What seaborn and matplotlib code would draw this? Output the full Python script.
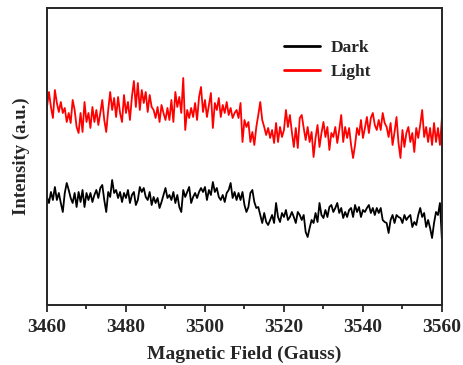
import numpy as np
import pandas as pd
import matplotlib
matplotlib.use("Agg")
import matplotlib.pyplot as plt
from matplotlib.ticker import MultipleLocator
import seaborn as sns

# =========================================================
# DADOS (passo de 0.5 G)
# =========================================================

FIELD = np.arange(3460, 3560.01, 0.5)

DARK = [
    103, 97, 108, 100, 113, 100, 107, 97, 88, 107,
    117, 110, 102, 97, 107, 93, 108, 98, 110, 93,
    107, 100, 107, 98, 105, 110, 102, 112, 115, 100,
    88, 108, 103, 120, 107, 110, 102, 108, 98, 107,
    102, 110, 97, 105, 108, 95, 100, 113, 108, 112,
    103, 100, 108,
    95, 103, 97, 102, 92, 98, 105, 112, 102, 105,
    100, 108, 97, 105, 93, 88, 110, 103, 108, 113,
    97, 103, 107, 102, 108, 112, 108, 113, 100, 110,
    105, 118, 108, 112, 103, 100, 105, 98, 107, 110,
    117, 102, 108, 100, 107, 100, 108, 95, 88, 93,
    107, 110, 98, 92, 93, 85, 77, 87, 78, 75,
    80, 85, 77, 97, 83, 78, 87, 83, 90, 80,
    83, 88, 83, 77, 88, 85, 80, 85, 68, 63,
    72, 80, 77, 87, 78, 97, 85, 82, 90, 83,
    93, 95, 88, 92, 97, 87, 92, 82, 88, 83,
    90, 92, 83, 95, 88, 93, 83, 90, 88, 92,
    95, 87, 92, 85, 92, 87, 92, 80, 78, 77,
    67, 80, 85, 77, 85, 83, 82, 77, 85, 80,
    83, 85, 73, 78, 75, 85, 92, 83, 87, 73,
    80, 72, 62, 77, 88, 85, 97, 60,
]

LIGHT = [
    193, 208, 193, 182, 210, 197, 188, 198, 187, 192,
    178, 187, 177, 200, 190, 173, 167, 187, 168, 198,
    178, 187, 172, 193, 178, 190, 175, 187, 200, 180,
    168, 190, 208, 190, 202, 183, 203, 187, 178, 205,
    187, 198, 180, 203, 219, 193, 217, 190, 210, 197,
    208, 188, 205,
    193, 190, 182, 193, 178, 195, 187, 180, 192, 180,
    200, 178, 208, 193, 203, 187, 222, 170, 190, 182,
    192, 183, 197, 180, 203, 213, 188, 200, 183, 195,
    207, 172, 197, 190, 202, 183, 195, 187, 198, 185,
    192, 182, 187, 190, 182, 197, 158, 180, 173, 178,
    158, 168, 155, 173, 185, 198, 180, 173, 165, 172,
    162, 170, 157, 177, 158, 173, 163, 170, 190, 173,
    185, 168, 153, 172, 152, 182, 185, 172, 160, 173,
    158, 168, 143, 162, 175, 153, 167, 178, 163, 173,
    150, 167, 163, 173, 157, 170, 185, 158, 173, 162,
    172, 155, 142, 155, 172, 165, 180, 162, 172, 183,
    167, 182, 187, 175, 170, 180, 170, 187, 177, 173,
    163, 177, 155, 168, 183, 157, 142, 170, 153, 167,
    173, 158, 167, 148, 172, 162, 175, 190, 163, 173,
    158, 172, 155, 177, 158, 172, 155, 182,
]

SERIES = ["Dark", "Light"]
COLORS = {"Dark": "black", "Light": "red"}

# =========================================================
# ESTILO
# =========================================================

sns.set_style("ticks")
plt.rcParams['font.family'] = ['Liberation Serif', 'DejaVu Serif']
plt.rcParams['font.weight'] = 'bold'

df = pd.concat([
    pd.DataFrame({"field": FIELD, "intensity": DARK, "sample": "Dark"}),
    pd.DataFrame({"field": FIELD, "intensity": LIGHT, "sample": "Light"}),
])

fig = plt.figure(figsize=(4.63, 3.65), dpi=100)
ax = fig.add_axes([0.1015, 0.1644, 0.853, 0.8137])

sns.lineplot(data=df, x="field", y="intensity", hue="sample",
             hue_order=SERIES, palette=COLORS, linewidth=1.3, ax=ax)

ax.set_xlim(3460, 3560)
ax.set_ylim(-5, 292)
ax.xaxis.set_major_locator(MultipleLocator(20))
ax.xaxis.set_minor_locator(MultipleLocator(10))
ax.tick_params(axis='x', which='major', direction='out', length=5, width=1.3,
               labelsize=14, pad=5)
ax.tick_params(axis='x', which='minor', direction='out', length=3, width=1.3)
ax.set_yticks([])
for lbl in ax.get_xticklabels():
    lbl.set_fontweight('bold')
for s in ax.spines.values():
    s.set_linewidth(1.4)
    s.set_visible(True)

ax.set_xlabel("Magnetic Field (Gauss)", fontsize=14, fontweight='bold', labelpad=7)
ax.set_ylabel("Intensity (a.u.)", fontsize=13.5, fontweight='bold', labelpad=12)

leg = ax.legend(loc='upper left', bbox_to_anchor=(0.56, 0.945), frameon=False,
                prop={'size': 12.5, 'weight': 'bold'}, handlelength=2.1,
                handletextpad=0.6, labelspacing=0.45)
for h in leg.get_lines():
    h.set_linewidth(2)

fig.savefig("out.png", dpi=100)
